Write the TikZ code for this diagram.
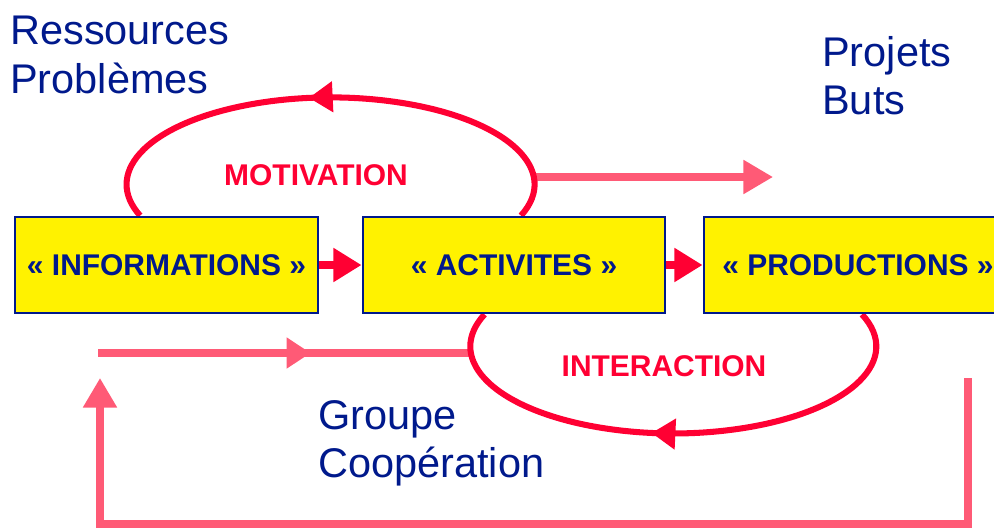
\documentclass[tikz,border=0pt]{standalone}
\usepackage{fontspec}
\setmainfont{Liberation Sans}
\usetikzlibrary{arrows.meta,decorations.markings,backgrounds,calc}

\definecolor{navy}{RGB}{0,25,140}
\definecolor{loopred}{RGB}{255,0,51}
\definecolor{flowpink}{RGB}{255,90,118}

\begin{document}
\begin{tikzpicture}[x=0.025cm, y=0.025cm,
    box/.style={draw=navy, line width=2pt, fill=yellow, text=navy,
      font=\fontsize{21.3}{25}\selectfont\bfseries, minimum height=2.4cm, inner sep=0pt},
    note/.style={anchor=north west, align=left, inner sep=0pt, text=navy,
      font=\fontsize{29.5}{34.5}\selectfont},
    ringlabel/.style={text=loopred, font=\fontsize{21.3}{25}\selectfont\bfseries},
    midtip/.style={postaction={decorate}, decoration={markings,
      mark=at position #1 with {\arrow{Triangle[length=17pt,width=21pt]}}}},
    ring/.style={color=loopred, line width=4.3pt, midtip=#1},
    joint/.style={color=loopred, line width=5.5pt, -{Triangle[length=20pt,width=23pt]}},
    flow/.style={color=flowpink, line width=5pt}
  ]
  \useasboundingbox (0,0) rectangle (994,-529);

  % the three boxes
  \node[box, minimum width=7.575cm] (info) at (166.5,-265) {« INFORMATIONS »};
  \node[box, minimum width=7.55cm] (act) at (514,-265) {« ACTIVITES »};
  \node[box, minimum width=7.7cm] (prod) at (858,-265) {« PRODUCTIONS »};

  \draw[joint] (info) -- (act);
  \draw[joint] (act) -- (prod);

  % texts
  \node[note] (ress) at (10,-16) {Ressources\\Problèmes};
  \node[note] (proj) at (822,-36) {Projets\\Buts};
  \node[note] (grp) at (318,-400) {Groupe\\Coopération};
  \node[ringlabel] (motiv) at (316,-175) {MOTIVATION};
  \node[ringlabel] (inter) at (664,-366) {INTERACTION};

  \coordinate (motR) at (534,-177);
  \coordinate (goal) at (773,-177);
  \coordinate (start) at (98,-353);
  \coordinate (intL) at (471,-353);
  \coordinate (back) at (968,-378);
  \coordinate (front) at (100,-378);

  \begin{scope}[on background layer]
    \draw[flow, -{Triangle[length=21pt,width=23pt]}] (motR) -- (goal);
    \draw[flow, midtip=.57] (start) -- (intL);
    \draw[flow, -{Triangle[length=21pt,width=23pt]}] (back) -- ++(0,-146) -| (front);
    \draw[ring=.54] ($(act.north)+(7,0)$) arc[start angle=-21, end angle=201, x radius=204, y radius=87];
    \draw[ring=.54] ($(prod.south)+(4,0)$) arc[start angle=21.6, end angle=-201.6, x radius=203, y radius=87];
  \end{scope}
\end{tikzpicture}
\end{document}
